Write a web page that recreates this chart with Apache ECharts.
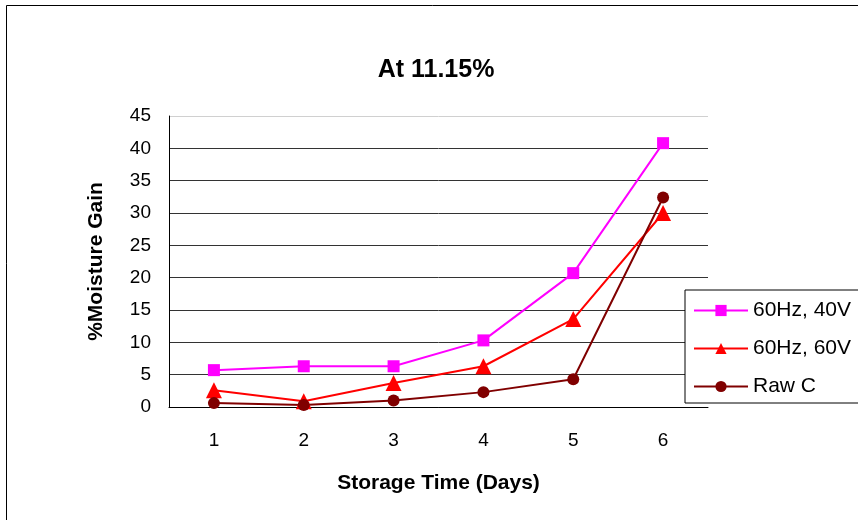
<!DOCTYPE html>
<html>
<head>
<meta charset="utf-8">
<script src="https://cdn.jsdelivr.net/npm/echarts@6/dist/echarts.min.js"></script>
<style>
  html, body { margin: 0; padding: 0; background: #fff; }
  #chart { width: 858px; height: 520px; }
</style>
</head>
<body>
<div id="chart"></div>
<script>
// Storage days on the x axis
const days = ['1', '2', '3', '4', '5', '6'];

// % moisture gain per treatment
const hz60v40 = [5.7, 6.3, 6.3, 10.3, 20.7, 40.8];
const hz60v60 = [2.6, 0.9, 3.7, 6.3, 13.6, 30.0];
const rawC = [0.6, 0.3, 1.0, 2.3, 4.3, 32.4];

const seriesNames = ['60Hz, 40V', '60Hz, 60V', 'Raw C'];

const FONT = '"Liberation Sans", Arial, Helvetica, sans-serif';

const chart = echarts.init(document.getElementById('chart'), null, { renderer: 'canvas' });

function lineSeries(name, data, color, symbol, size) {
  return {
    name: name,
    type: 'line',
    data: data,
    symbol: symbol,
    symbolSize: size,
    showAllSymbol: true,
    lineStyle: { color: color, width: 2 },
    itemStyle: { color: color },
    emphasis: { disabled: true },
    animation: false
  };
}

chart.setOption({
  animation: false,
  backgroundColor: '#fff',
  title: {
    text: 'At 11.15%',
    left: 431,
    textAlign: 'center',
    top: 53,
    textStyle: { fontFamily: FONT, fontSize: 25, fontWeight: 'bold', color: '#000' }
  },
  graphic: [{
    type: 'rect',
    shape: { x: 6.5, y: 5.5, width: 900, height: 600 },
    style: { fill: 'none', stroke: '#000', lineWidth: 1 },
    silent: true,
    z: -1
  }],
  legend: {
    orient: 'vertical',
    left: 685,
    top: 290,
    itemWidth: 54,
    itemHeight: 14,
    itemGap: 17,
    padding: [10, 60, 6, 8],
    borderColor: '#000',
    borderWidth: 1,
    backgroundColor: '#fff',
    textStyle: { fontFamily: FONT, fontSize: 21, color: '#000' },
    data: seriesNames
  },
  grid: { left: 169, top: 116, right: 150, bottom: 113, containLabel: false },
  xAxis: {
    type: 'category',
    data: days,
    boundaryGap: true,
    name: 'Storage Time (Days)',
    nameLocation: 'middle',
    nameGap: 66,
    nameTextStyle: { fontFamily: FONT, fontSize: 21, fontWeight: 'bold', color: '#000' },
    axisLine: { lineStyle: { color: '#000', width: 1 } },
    axisTick: { show: false },
    axisLabel: { fontFamily: FONT, fontSize: 19, color: '#000', margin: 24 }
  },
  yAxis: {
    type: 'value',
    min: 0,
    max: 45,
    interval: 5,
    name: '%Moisture Gain',
    nameLocation: 'middle',
    nameGap: 62,
    nameTextStyle: { fontFamily: FONT, fontSize: 21, fontWeight: 'bold', color: '#000' },
    axisLine: { show: true, lineStyle: { color: '#000', width: 1 } },
    axisTick: { show: false },
    axisLabel: { fontFamily: FONT, fontSize: 19, color: '#000', margin: 18 },
    splitLine: {
      show: true,
      lineStyle: {
        color: ['#000', '#333', '#333', '#333', '#333', '#333', '#333', '#333', '#333', '#d0d0d0'],
        width: 1
      }
    }
  },
  series: [
    lineSeries(seriesNames[0], hz60v40, '#ff00ff', 'rect', 12),
    lineSeries(seriesNames[1], hz60v60, '#ff0000', 'triangle', 16),
    lineSeries(seriesNames[2], rawC, '#800000', 'circle', 12)
  ]
});
</script>
</body>
</html>
